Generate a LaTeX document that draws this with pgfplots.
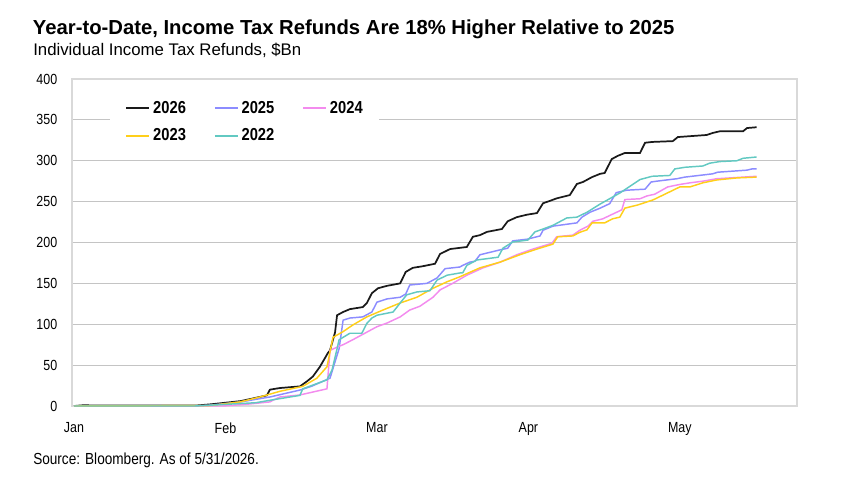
\documentclass[border=0pt]{standalone}
\usepackage{pgfplots}
\pgfplotsset{compat=1.18}
\usepackage{fontspec}
\setmainfont{Liberation Sans}
\newfontfamily\narrow[FakeStretch=0.85]{Liberation Sans}
\definecolor{c26}{HTML}{1A1A1A}
\definecolor{c25}{HTML}{8C8CFF}
\definecolor{c24}{HTML}{F38BEE}
\definecolor{c23}{HTML}{FFCF1A}
\definecolor{c22}{HTML}{62C9C2}
\definecolor{gridc}{HTML}{C4C4C4}
\definecolor{framec}{HTML}{D9D9D9}
\begin{document}
\begin{tikzpicture}
\path[use as bounding box] (0,0) rectangle (630.75pt,363pt);
\node[anchor=base west, inner sep=0pt, font=\bfseries\fontsize{15.2}{18}\selectfont] at (24.5pt,337.3pt) {Year-to-Date, Income Tax Refunds Are 18\% Higher Relative to 2025};
\node[anchor=base west, inner sep=0pt, font=\fontsize{12.6}{15}\selectfont] at (24.75pt,321.2pt) {Individual Income Tax Refunds, \$Bn};
\node[anchor=base west, inner sep=0pt, font=\narrow\fontsize{12}{14}\selectfont] at (24.75pt,14.5pt) {Source: Bloomberg. As of 5/31/2026.};
\begin{axis}[
  at={(54pt,58.5pt)}, anchor=south west,
  scale only axis, width=543.75pt, height=245.25pt,
  xmin=-0.4, xmax=143.2, ymin=0, ymax=400,
  xtick={0,30,60,90,120}, xticklabels={Jan,Feb,Mar,Apr,May},
  ytick={0,50,...,400},
  /pgf/number format/assume math mode=true,
  major tick length=0pt,
  tick style={draw=none},
  ymajorgrids, grid style={draw=gridc, line width=0.8pt},
  axis line style={draw=framec, line width=1pt},
  yticklabel style={font=\narrow\fontsize{11}{13}\selectfont, xshift=-7.5pt},
  xticklabel style={font=\narrow\fontsize{11}{13}\selectfont, yshift=-9pt},
  clip=false,
  legend columns=3,
  legend cell align=left,
  legend style={at={(0.0524,0.966)}, anchor=north west, draw=none, fill=white,
    font=\narrow\bfseries\fontsize{13}{15}\selectfont,
    inner xsep=11.5pt, inner ysep=6pt,
    nodes={inner xsep=1pt, inner ysep=2pt},
    row sep=6.25pt,
    /tikz/every odd column/.append style={column sep=1.25pt},
    /tikz/every even column/.append style={column sep=20pt}},
  legend image code/.code={\draw[#1, line width=1.2pt] (0pt,0pt) -- (17.25pt,0pt);},
]
\addplot[c26, line width=1.3pt] coordinates {
(0,0) (2,1) (4,0.5) (24,0.5) (27,2) (30,4) (33,6) (36,10) (38.2,13) (38.8,20) (40.8,22) (44.75,24) (46.1,30) (47.3,36) (48.7,48) (50.3,65) (50.7,68) (51.7,90) (52.1,111) (53.3,115) (54.65,118.5) (57.2,121) (58,126) (59,138) (60.2,144) (62,147) (64.6,150) (65.7,164) (67.1,169) (69.1,171) (71.5,174) (72.5,186) (74.5,192) (77.8,194.5) (79,207) (80.4,209) (81.8,213) (84.75,216.5) (85.9,226) (87.7,231) (89.7,234) (91.7,236) (92.9,248) (94.3,251) (95.6,254) (98.2,258) (99.6,271.6) (100.8,274) (102.6,280) (104.2,284) (105.1,285) (106.5,302) (107.7,306) (109.1,309.5) (112.1,309.5) (113.1,322) (114.5,323) (118.6,324) (119.6,329) (125.3,331.5) (126.5,334) (127.9,336) (132.5,336) (133.3,340) (135.2,341)
};
\addlegendentry{2026}
\addplot[c25, line width=1.1pt] coordinates {
(0,0) (24,0) (27,1) (30,3) (33,5) (38.8,11) (44.75,19.5) (47,24) (50.7,34) (52.5,70) (53.3,105) (54.65,107.6) (57.2,109) (59,115) (60,127) (62,131) (64.6,133) (65.7,137) (66.5,148) (69.9,150) (71.9,156.6) (73.5,168) (76.4,170) (77,172) (78.4,176) (79.4,177) (80.4,185) (84.4,191) (85.9,193) (86.9,202) (89.7,204) (92.3,208) (92.9,215) (94.85,220) (99.6,224) (100.6,231) (102.2,237) (104.2,242) (106.1,247.5) (107.4,261) (109.5,264) (113.1,265.2) (114.3,274) (115.4,275) (119.4,278) (121,280) (126.5,284) (127.5,286) (133.3,288.5) (134.3,290) (135.2,290)
};
\addlegendentry{2025}
\addplot[c24, line width=1.1pt] coordinates {
(0,0) (29.5,0) (34,2) (38.8,5) (39.4,7) (40.8,11) (44.75,13.5) (50.1,21) (50.7,68) (52.1,72) (53.3,75) (55.2,81) (57.6,89) (60,97) (62,101.5) (64.6,109) (66.5,117.4) (68.5,122) (71.1,133) (72.5,142) (75,150) (77.8,160) (81,169) (84.4,176) (87.7,185) (90.9,192) (94.65,199) (95.6,207) (98.8,209) (100.2,215) (101.8,220) (102.8,226) (104.75,229) (106.1,233) (108.5,240) (109.1,252.5) (112.1,253.5) (113.5,257) (115,259) (117.6,268) (120,271) (122,273) (124.55,275) (127.3,278) (135.2,281)
};
\addlegendentry{2024}
\addplot[c23, line width=1.1pt] coordinates {
(0,0) (26.9,0.5) (32.9,5) (36.8,11) (40.8,18) (45.3,24) (48.1,34) (50.1,48) (51.3,84) (53.3,91) (55.2,99) (58,109) (61.2,117.4) (64.6,126) (67.9,133) (71.1,144) (73.9,152) (76.4,158) (80.4,169) (84.4,176) (88.3,185) (91.7,192) (94.85,198) (95.8,207) (98.8,208) (100.2,212.5) (101.6,215.5) (102.6,224) (105.1,224) (106.7,229) (108.1,231) (109.1,242) (111.7,246) (114.65,252) (118,262) (120,268) (122,268) (124.55,273) (127.3,276.5) (131.3,279) (135.2,280)
};
\addlegendentry{2023}
\addplot[c22, line width=1.1pt] coordinates {
(0,0) (24,0) (30,2) (36,4) (38.8,7) (44.75,13) (45.3,21) (50.1,32) (51.1,44) (52.1,70) (52.5,81) (53.3,84) (54.65,89) (57,89) (58,101) (59,107.6) (60,111) (63.2,115) (64.6,126) (65.9,136) (67.9,139.5) (70.5,141) (71.9,154) (73.9,160) (76.4,162.7) (77,163) (77.8,172) (79.8,178.6) (84,182) (84.95,193) (86.9,200.6) (89.9,203) (91.3,213) (92.9,216.5) (94.85,221) (97.6,230) (99.6,231) (101.6,237) (104.2,247) (108.1,260.5) (112.1,277) (114.5,281) (118,282) (119,290) (121,292) (124.55,293.6) (125.9,297) (127.9,299) (131.3,300) (132.5,303) (135.2,304.6)
};
\addlegendentry{2022}
\end{axis}
\end{tikzpicture}
\end{document}
